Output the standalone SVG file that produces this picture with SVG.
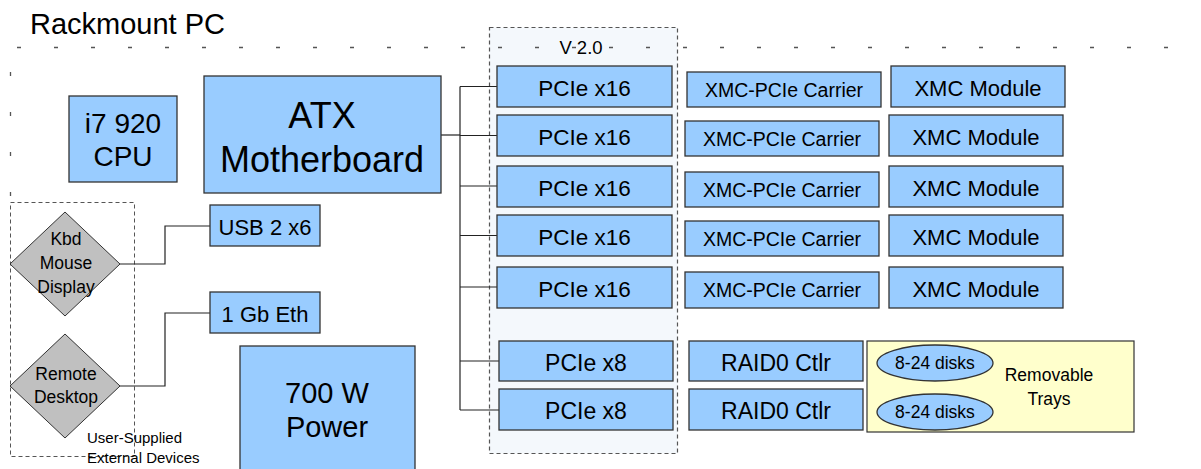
<svg xmlns="http://www.w3.org/2000/svg" width="1201" height="469" viewBox="0 0 1201 469">
<style>
text{font-family:"Liberation Sans",Arial,sans-serif;fill:#000;text-anchor:middle}
.box{fill:#99ccff;stroke:#333;stroke-width:1.3}
.dia{fill:#c0c0c0;stroke:#333;stroke-width:1}
.conn{fill:none;stroke:#222;stroke-width:1.2}
.sparse{fill:none;stroke:#555;stroke-width:1.3}
.dash{fill:none;stroke:#555;stroke-width:1;stroke-dasharray:4 3}
</style>
<rect width="1201" height="469" fill="#fff"/>
<g id="rackmount">
<text x="30" y="34" style="text-anchor:start;font-size:29px">Rackmount PC</text>
<path class="sparse" d="M10.5 72V200" stroke-dasharray="4 36"/>
</g>
<g id="pcie-v2">
<rect x="489.5" y="27.5" width="188" height="426" fill="#f4f8fc" stroke="#555" stroke-width="1.2" stroke-dasharray="4 3"/>
<text x="581" y="54" style="font-size:18.5px">V 2.0</text>
</g>
<path class="sparse" d="M17 47.5H1201" stroke-dasharray="4 33"/>
<g id="user-supplied">
<rect class="dash" x="10.5" y="202.5" width="124" height="254"/>
<text x="87" y="443" style="text-anchor:start;font-size:15px">User-Supplied</text>
<text x="87" y="463" style="text-anchor:start;font-size:15px">External Devices</text>
</g>
<g id="connectors">
<path class="conn" d="M120 264H165V226H210"/>
<path class="conn" d="M120 386H165V313H210"/>
<path class="conn" d="M441 135H460" stroke="#777"/>
<path class="conn" d="M460 86.5V410"/>
<path class="conn" d="M460 86.5H497M460 135.5H497M460 186H497M460 235.5H497M460 287H497M460 361H499M460 410H499"/>
</g>
<g id="cpu"><rect class="box" x="69" y="96" width="108" height="86"/>
<text x="123" y="133" style="font-size:28px">i7 920</text><text x="123" y="166" style="font-size:28px">CPU</text></g>
<g id="atx"><rect class="box" x="204" y="76" width="237" height="117"/>
<text x="322" y="128" style="font-size:36px">ATX</text><text x="322" y="172" style="font-size:36px">Motherboard</text></g>
<g id="kbd"><polygon class="dia" points="65,212 120,264 65,316 10,264"/>
<text x="66" y="245" style="font-size:17.5px">Kbd</text><text x="66" y="269" style="font-size:17.5px">Mouse</text><text x="66" y="293" style="font-size:17.5px">Display</text></g>
<g id="remote"><polygon class="dia" points="65,334 120,386 65,438 10,386"/>
<text x="66" y="380" style="font-size:17.5px">Remote</text><text x="66" y="403" style="font-size:17.5px">Desktop</text></g>
<g id="usb"><rect class="box" x="210" y="205" width="110" height="41"/>
<text x="265" y="235" style="font-size:22px">USB 2 x6</text></g>
<g id="eth"><rect class="box" x="210" y="292" width="110" height="41"/>
<text x="265" y="322" style="font-size:22px">1 Gb Eth</text></g>
<g id="power"><rect class="box" x="240" y="346" width="175" height="130"/>
<text x="327" y="403" style="font-size:29px">700 W</text><text x="327" y="437" style="font-size:29px">Power</text></g>
<g id="pcie1"><rect class="box" x="497" y="66" width="175" height="41"/><text x="584.5" y="96" style="font-size:22.5px">PCIe x16</text></g>
<g id="pcie2"><rect class="box" x="497" y="115" width="175" height="41"/><text x="584.5" y="145" style="font-size:22.5px">PCIe x16</text></g>
<g id="pcie3"><rect class="box" x="497" y="166" width="175" height="41"/><text x="584.5" y="196" style="font-size:22.5px">PCIe x16</text></g>
<g id="pcie4"><rect class="box" x="497" y="215" width="175" height="41"/><text x="584.5" y="245" style="font-size:22.5px">PCIe x16</text></g>
<g id="pcie5"><rect class="box" x="497" y="267" width="175" height="41"/><text x="584.5" y="297" style="font-size:22.5px">PCIe x16</text></g>
<g id="pcie6"><rect class="box" x="499" y="341" width="174" height="40"/><text x="586" y="371" style="font-size:23px">PCIe x8</text></g>
<g id="pcie7"><rect class="box" x="499" y="389" width="174" height="41"/><text x="586" y="419" style="font-size:23px">PCIe x8</text></g>
<g id="carrier1"><rect class="box" x="687" y="72" width="194" height="35"/><text x="784" y="97" style="font-size:19.5px">XMC-PCIe Carrier</text></g>
<g id="carrier2"><rect class="box" x="685" y="121" width="194" height="35"/><text x="782" y="146" style="font-size:19.5px">XMC-PCIe Carrier</text></g>
<g id="carrier3"><rect class="box" x="685" y="172" width="194" height="35"/><text x="782" y="197" style="font-size:19.5px">XMC-PCIe Carrier</text></g>
<g id="carrier4"><rect class="box" x="685" y="221" width="194" height="35"/><text x="782" y="246" style="font-size:19.5px">XMC-PCIe Carrier</text></g>
<g id="carrier5"><rect class="box" x="685" y="272" width="194" height="36"/><text x="782" y="297" style="font-size:19.5px">XMC-PCIe Carrier</text></g>
<g id="xmc1"><rect class="box" x="891" y="66" width="174" height="41"/><text x="978" y="96" style="font-size:22px">XMC Module</text></g>
<g id="xmc2"><rect class="box" x="889" y="115" width="174" height="41"/><text x="976" y="145" style="font-size:22px">XMC Module</text></g>
<g id="xmc3"><rect class="box" x="889" y="166" width="174" height="41"/><text x="976" y="196" style="font-size:22px">XMC Module</text></g>
<g id="xmc4"><rect class="box" x="889" y="215" width="174" height="41"/><text x="976" y="245" style="font-size:22px">XMC Module</text></g>
<g id="xmc5"><rect class="box" x="889" y="267" width="174" height="41"/><text x="976" y="297" style="font-size:22px">XMC Module</text></g>
<g id="raid1"><rect class="box" x="689" y="341" width="174" height="40"/><text x="776" y="371" style="font-size:23px">RAID0 Ctlr</text></g>
<g id="raid2"><rect class="box" x="689" y="389" width="174" height="41"/><text x="776" y="419" style="font-size:23px">RAID0 Ctlr</text></g>
<g id="trays"><rect x="867" y="341" width="267" height="91" fill="#ffffcc" stroke="#333" stroke-width="1.2"/>
<text x="1049" y="381" style="font-size:17.5px">Removable</text><text x="1049" y="405" style="font-size:17.5px">Trays</text></g>
<g id="disks1"><ellipse class="box" cx="935" cy="363" rx="58" ry="18" stroke-width="1"/><text x="935" y="369" style="font-size:17.5px">8-24 disks</text></g>
<g id="disks2"><ellipse class="box" cx="935" cy="412" rx="58" ry="18" stroke-width="1"/><text x="935" y="418" style="font-size:17.5px">8-24 disks</text></g>
</svg>
